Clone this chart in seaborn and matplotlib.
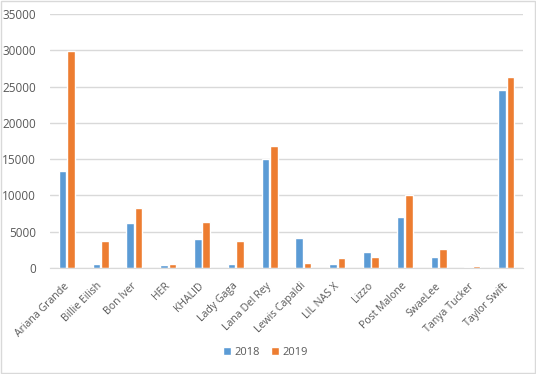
import pandas as pd
import matplotlib.pyplot as plt
import matplotlib.transforms as mtransforms
import seaborn as sns
from matplotlib.patches import Rectangle

# Values
artists = ['Ariana Grande', 'Billie Eilish', 'Bon Iver', 'HER', 'KHALID', 'Lady Gaga',
           'Lana Del Rey', 'Lewis Capaldi', 'LIL NAS X', 'Lizzo', 'Post Malone',
           'SwaeLee', 'Tanya Tucker', 'Taylor Swift']
values_2018 = [13350, 550, 6190, 410, 4040, 550, 15000, 4130, 550, 2200, 7020, 1560, 180, 24540]
values_2019 = [29900, 3715, 8260, 550, 6330, 3715, 16830, 690, 1420, 1560, 10050, 2660, 320, 26330]
years = ['2018', '2019']
y_ticks = [0, 5000, 10000, 15000, 20000, 25000, 30000, 35000]

df = pd.DataFrame({
    'Artist': artists * 2,
    'Year': [years[0]] * len(artists) + [years[1]] * len(artists),
    'Value': values_2018 + values_2019,
})

sns.set_style('white')
plt.rcParams['font.family'] = ['Open Sans', 'DejaVu Sans']
text_color = '#595959'
grid_color = '#D9D9D9'

fig, ax = plt.subplots(figsize=(5.36, 3.74), dpi=100)
fig.subplots_adjust(left=0.093, right=0.976, top=0.963, bottom=0.283)

sns.barplot(data=df, x='Artist', y='Value', hue='Year', order=artists, hue_order=years,
            palette=['#5B9BD5', '#ED7D31'], width=0.5, gap=0.1, saturation=1,
            errorbar=None, ax=ax)

ax.set_ylim(0, 35000)
ax.set_yticks(y_ticks)
ax.set_xlim(-0.5, len(artists) - 0.5)
ax.set_xlabel('')
ax.set_ylabel('')
ax.yaxis.grid(True, color=grid_color, linewidth=1)
ax.set_axisbelow(True)
for side in ['top', 'left', 'right']:
    ax.spines[side].set_visible(False)
ax.spines['bottom'].set_color(grid_color)
ax.tick_params(axis='both', length=0, colors=text_color)
ax.tick_params(axis='y', pad=10, labelsize=8.5)
ax.tick_params(axis='x', pad=9, labelsize=7.6)
# nudge rotated labels a little to the right, as in the reference
shift = mtransforms.ScaledTranslation(3 / 72, 0, fig.dpi_scale_trans)
for lbl in ax.get_xticklabels():
    lbl.set_rotation(45)
    lbl.set_ha('right')
    lbl.set_transform(lbl.get_transform() + shift)

handles, labels = ax.get_legend_handles_labels()
ax.get_legend().remove()
fig.legend(handles, labels, loc='center', bbox_to_anchor=(0.495, 0.058), ncol=2,
           frameon=False, fontsize=8, handlelength=0.7, handleheight=0.7,
           handletextpad=0.3, columnspacing=1.0, labelcolor=text_color)

# light border round the whole chart
fig.patches.append(Rectangle((0.002, 0.003), 0.996, 0.994, transform=fig.transFigure,
                             fill=False, edgecolor=grid_color, linewidth=1))

fig.savefig('out.png', dpi=100)
